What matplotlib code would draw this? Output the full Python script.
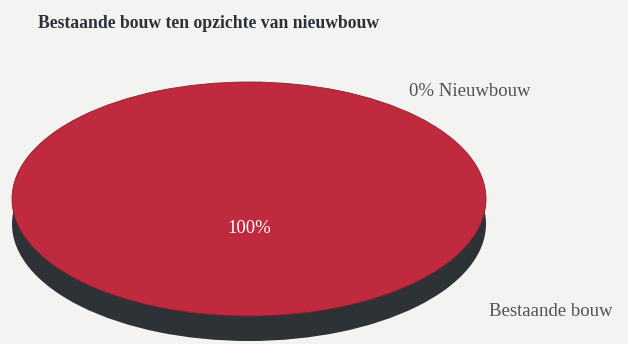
import matplotlib.pyplot as plt

title = 'Bestaande bouw ten opzichte van nieuwbouw'
categories = ['Nieuwbouw', 'Bestaande bouw']
shares = [0, 100]

W, H = 628, 344
cx, cy = 249, 199      # centre of the pie top in pixels
rx, ry = 237, 117      # ellipse radii in pixels
depth = 25             # thickness of the side

fig = plt.figure(figsize=(W / 100, H / 100), dpi=100, facecolor='#f3f3f2')
ax = fig.add_axes([0, 0, 1, 1])
ax.set_facecolor('#f3f3f2')

# side of the disc
ax.pie(shares, center=(0, -depth / ry), radius=1, startangle=90,
       colors=['#2d3236', '#2d3236'], frame=True,
       wedgeprops=dict(linewidth=0))
# top of the disc
wedges, _, autotexts = ax.pie(
    shares, center=(0, 0), radius=1, startangle=90,
    colors=['#c12a3f', '#c02a3e'], frame=True,
    autopct=lambda p: '%d%%' % round(p) if p > 0 else '',
    pctdistance=0.25,
    wedgeprops=dict(edgecolor='#8a1f2c', linewidth=0.6))
for t in autotexts:
    t.set_color('white')
    t.set_fontsize(13.5)
    t.set_family('Liberation Serif')

# one data unit = rx px horizontally and ry px vertically -> elliptic pie
ax.set_aspect('auto')
ax.set_xlim(-cx / rx, (W - cx) / rx)
ax.set_ylim(-(H - cy) / ry, cy / ry)
ax.axis('off')

serif = 'Liberation Serif'
fig.text(38 / W, 1 - 23 / H, title, fontsize=12.7, fontweight='bold',
         family=serif, color='#2b3139', va='center', ha='left')
fig.text(409 / W, 1 - 92 / H, '%d%% %s' % (shares[0], categories[0]),
         fontsize=13.5, family=serif, color='#4d535a', va='center', ha='left')
fig.text(489 / W, 1 - 311 / H, categories[1],
         fontsize=13.5, family=serif, color='#4d535a', va='center', ha='left')

fig.savefig('out.png', dpi=100, facecolor=fig.get_facecolor())
